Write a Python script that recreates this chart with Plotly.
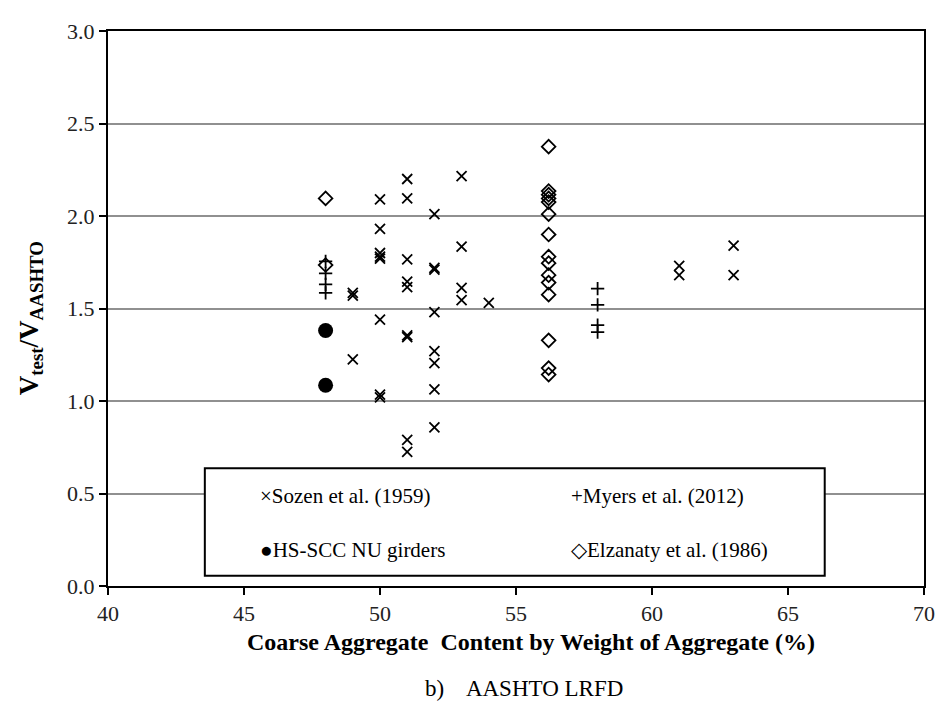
import plotly.graph_objects as go

# ---- data ----
sozen_x = [49, 49, 49,
           50, 50, 50, 50, 50, 50, 50, 50,
           51, 51, 51, 51, 51, 51, 51, 51, 51,
           52, 52, 52, 52, 52, 52, 52, 52,
           53, 53, 53, 53,
           54,
           61, 61,
           63, 63]
sozen_y = [1.585, 1.57, 1.225,
           2.09, 1.93, 1.80, 1.78, 1.77, 1.44, 1.035, 1.02,
           2.20, 2.095, 1.765, 1.645, 1.615, 1.355, 1.345, 0.79, 0.725,
           2.01, 1.72, 1.71, 1.48, 1.27, 1.205, 1.063, 0.858,
           2.215, 1.835, 1.612, 1.545,
           1.53,
           1.73, 1.68,
           1.84, 1.68]

myers_x = [48, 48, 48, 48, 58, 58, 58, 58]
myers_y = [1.755, 1.69, 1.63, 1.585, 1.607, 1.52, 1.41, 1.372]

nu_x = [48, 48]
nu_y = [1.381, 1.085]

elz_x = [48, 48,
         56.2, 56.2, 56.2, 56.2, 56.2, 56.2, 56.2, 56.2,
         56.2, 56.2, 56.2, 56.2, 56.2, 56.2, 56.2]
elz_y = [2.095, 1.735,
         2.375, 2.135, 2.115, 2.095, 2.075, 2.01, 1.90, 1.78,
         1.745, 1.68, 1.64, 1.575, 1.328, 1.178, 1.143]

x_ticks = [40, 45, 50, 55, 60, 65, 70]
y_ticks = [0.0, 0.5, 1.0, 1.5, 2.0, 2.5, 3.0]

legend_names = ["Sozen et al. (1959)", "Myers et al. (2012)",
                "HS-SCC NU girders", "Elzanaty et al. (1986)"]
legend_glyphs = ["×", "+", "●", "◇"]

FONT = "Liberation Serif"

fig = go.Figure()
fig.add_trace(go.Scatter(x=sozen_x, y=sozen_y, mode="markers", name=legend_names[0],
                         marker=dict(symbol="x-thin", size=10, color="black",
                                     line=dict(width=1.8, color="black")), showlegend=False))
fig.add_trace(go.Scatter(x=myers_x, y=myers_y, mode="markers", name=legend_names[1],
                         marker=dict(symbol="cross-thin", size=9.5, color="black",
                                     line=dict(width=1.8, color="black")), showlegend=False))
fig.add_trace(go.Scatter(x=nu_x, y=nu_y, mode="markers", name=legend_names[2],
                         marker=dict(symbol="circle", size=15, color="black",
                                     line=dict(width=0)), showlegend=False))
fig.add_trace(go.Scatter(x=elz_x, y=elz_y, mode="markers", name=legend_names[3],
                         marker=dict(symbol="diamond-open", size=10.5, color="black",
                                     line=dict(width=1.8, color="black")), showlegend=False))

# legend drawn as a framed box with text entries (glyph + label)
fig.add_shape(type="rect", xref="x", yref="y", x0=43.56, x1=66.35, y0=0.055, y1=0.637,
              line=dict(color="black", width=2), fillcolor="white", layer="above")
legend_pos = [(45.5, 0.485), (56.95, 0.485), (45.5, 0.195), (56.95, 0.195)]
for glyph, label, (lx, ly) in zip(legend_glyphs, legend_names, legend_pos):
    fig.add_annotation(x=lx, y=ly, xref="x", yref="y", xanchor="left", yanchor="middle",
                       text=glyph + label, showarrow=False,
                       font=dict(family=FONT, size=21, color="black"))

# y-axis title
fig.add_annotation(x=-0.095, y=1.45, xref="paper", yref="y", xanchor="center", yanchor="middle",
                   text="<b>V<sub>test</sub>/V<sub>AASHTO</sub></b>", textangle=-90,
                   showarrow=False, font=dict(family=FONT, size=27, color="black"))

# x-axis title
fig.add_annotation(x=0.518, y=-0.101, xref="paper", yref="paper", xanchor="center", yanchor="middle",
                   text="<b>Coarse Aggregate&nbsp; Content by Weight of Aggregate (%)</b>",
                   showarrow=False, font=dict(family=FONT, size=24, color="black"))

# caption
fig.add_annotation(x=0.51, y=-0.184, xref="paper", yref="paper", xanchor="center", yanchor="middle",
                   text="b)&nbsp;&nbsp;&nbsp; AASHTO LRFD", showarrow=False,
                   font=dict(family=FONT, size=23, color="black"))

fig.update_layout(
    width=938, height=705,
    margin=dict(l=100, r=14, t=11, b=127),
    paper_bgcolor="white", plot_bgcolor="white",
    font=dict(family=FONT, size=20, color="black"),
    xaxis=dict(range=[40, 70], tickvals=x_ticks, ticktext=[str(v) for v in x_ticks],
               showgrid=False, zeroline=False, showline=True, mirror=True,
               linecolor="black", linewidth=2, ticks="outside", ticklen=7, tickwidth=1.5,
               tickcolor="black", tickfont=dict(family=FONT, size=22, color="#222")),
    yaxis=dict(range=[0, 3], tickvals=y_ticks, ticktext=[f"{v:.1f}" for v in y_ticks],
               showgrid=True, gridcolor="#909090", gridwidth=1.6, zeroline=False,
               showline=True, mirror=True, linecolor="black", linewidth=2,
               ticks="outside", ticklen=7, tickwidth=1.5, tickcolor="black",
               tickfont=dict(family=FONT, size=22, color="#222")),
)

fig.write_html("out.html")
